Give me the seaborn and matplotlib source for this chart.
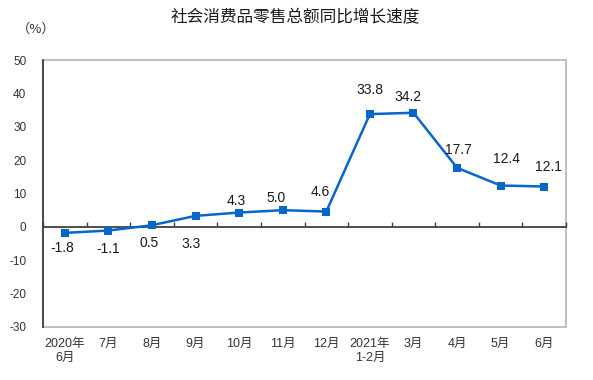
import numpy as np
import pandas as pd
import matplotlib
matplotlib.use("Agg")
import matplotlib.pyplot as plt
import seaborn as sns
from matplotlib.patches import Rectangle

# data
months = ["2020年\n6月", "7月", "8月", "9月", "10月", "11月", "12月",
          "2021年\n1-2月", "3月", "4月", "5月", "6月"]
growth = [-1.8, -1.1, 0.5, 3.3, 4.3, 5.0, 4.6, 33.8, 34.2, 17.7, 12.4, 12.1]
y_ticks = [-30, -20, -10, 0, 10, 20, 30, 40, 50]
title = "社会消费品零售总额同比增长速度"
unit = "（%）"

# label offsets in points (where each value label sits relative to its marker)
label_offsets = [(-2, -11), (0, -13), (-2, -13), (-3, -20), (-2, 8), (-5, 9),
                 (-4, 14), (0, 17), (-4, 11), (1, 13), (4, 19), (3, 14)]

sns.set_style("white")
plt.rcParams["font.family"] = ["Liberation Sans", "Noto Sans CJK SC", "DejaVu Sans"]

df = pd.DataFrame({"pos": np.arange(len(months)), "month": months, "value": growth})

fig = plt.figure(figsize=(5.93, 3.80), dpi=100)
ax = fig.add_axes([0.0725, 0.1395, 0.882, 0.7025])

blue = "#0766C9"
sns.lineplot(data=df, x="pos", y="value", ax=ax, color=blue, linewidth=1.8,
             marker="s", markersize=5.5, markeredgewidth=0, sort=False)

for x, v, off in zip(df["pos"], df["value"], label_offsets):
    ax.annotate(f"{v:.1f}", (x, v), xytext=off, textcoords="offset points",
                ha="center", va="center", fontsize=10, color="#1a1a1a")

ax.set_xlim(-0.5, len(months) - 0.5)
ax.set_ylim(y_ticks[0], y_ticks[-1])
ax.set_yticks(y_ticks)
ax.set_yticklabels([str(t) for t in y_ticks])
ax.set_xticks(df["pos"])
ax.set_xticklabels(months, fontsize=9, linespacing=1.2)
ax.tick_params(axis="x", length=0, pad=8, colors="#333333")
ax.tick_params(axis="y", direction="in", length=3, width=1, pad=12,
               labelsize=8.5, colors="#333333")
ax.set_xlabel("")
ax.set_ylabel("")

# light gray frame, dark left spine
for side in ["top", "right", "bottom"]:
    ax.spines[side].set_visible(False)
ax.add_patch(Rectangle((0, 0), 1, 1, transform=ax.transAxes, fill=False,
                       edgecolor="#C0C0C0", linewidth=1.5, clip_on=False, zorder=0))
ax.spines["left"].set_color("#404040")
ax.spines["left"].set_linewidth(1.3)
ax.spines["left"].set_zorder(3)

# zero line with category boundary ticks
zero_axis = ax.secondary_xaxis(0, transform=ax.transData)
zero_axis.set_xticks(np.arange(len(months) + 1) - 0.5)
zero_axis.tick_params(axis="x", direction="in", length=3.5, width=1,
                      labelbottom=False, labeltop=False, colors="#404040")
zero_axis.spines["bottom"].set_color("#404040")
zero_axis.spines["bottom"].set_linewidth(1.3)
zero_axis.spines["top"].set_visible(False)

fig.text(295 / 593, 1 - 18 / 380, title, ha="center", va="center",
         fontsize=12, color="#1a1a1a", family=["Noto Sans CJK SC", "DejaVu Sans"])
fig.text(36 / 593, 1 - 29 / 380, unit, ha="center", va="center",
         fontsize=9.5, color="#333333", family=["Noto Sans CJK SC", "DejaVu Sans"])

fig.savefig("out.png", dpi=100)
